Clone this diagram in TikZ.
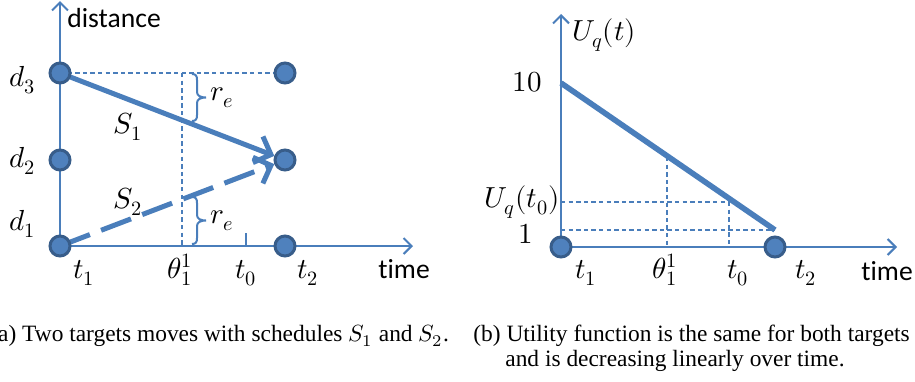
\documentclass[tikz,border=0pt]{standalone}
\usepackage{fontspec}
\usepackage{unicode-math}
\setmainfont{Liberation Serif}
\setmathfont{Latin Modern Math}
\newfontfamily\calib[Ligatures=NoCommon]{Carlito}
\usetikzlibrary{arrows.meta}
\definecolor{ln}{HTML}{4A7EBB}
\definecolor{cf}{HTML}{4F81BD}
\definecolor{cb}{HTML}{385D8A}
\pgfdeclarelayer{bg}
\pgfsetlayers{bg,main}
\tikzset{
  axisline/.style={draw=ln, line width=1pt, -{Straight Barb[length=4pt,width=8pt]}},
  tdash/.style={draw=ln, line width=0.7pt, dash pattern=on 2.2pt off 1.6pt},
  sone/.style={draw=ln, line width=2.5pt, -{Straight Barb[length=7pt,width=14pt]}},
  stwo/.style={sone, dash pattern=on 16pt off 6pt},
  uline/.style={draw=ln, line width=2.8pt},
  dot/.style={circle, fill=cf, draw=cb, line width=1.5pt, minimum size=10pt, inner sep=0pt},
  lbl/.style={font=\fontsize{14.5}{16}\selectfont, inner sep=0pt},
  txt/.style={font=\calib\fontsize{13.8}{16}\selectfont, inner sep=0pt},
  captext/.style={font=\fontsize{11.7}{12.5}\selectfont, inner sep=0pt},
  bracestyle/.style={draw=ln, line width=1pt}
}
\begin{document}
\begin{tikzpicture}[x=0.5pt,y=-0.5pt]
\useasboundingbox (0,0) rectangle (915,381);
% ---------- left diagram ----------
\node[dot] (d3dot) at (60,73) {};
\node[dot] (d2dot) at (60,160) {};
\node[dot] (d1dot) at (60,246) {};
\node[dot] (e3dot) at (285,73) {};
\node[dot] (e2dot) at (285,160) {};
\node[dot] (e1dot) at (285,246) {};
\coordinate (ytop) at (60,1);
\coordinate (xend) at (413,246);
\coordinate (thtop) at (182,73);
\coordinate (thbot) at (182,246);
\coordinate (tzt) at (246,233);
\coordinate (tzb) at (246,246);
\begin{pgfonlayer}{bg}
\draw[axisline] (d1dot.center) -- (ytop);
\draw[axisline] (d1dot.center) -- (xend);
\draw[tdash] (d3dot.center) -- (e3dot.center);
\draw[tdash] (thtop) -- (thbot);
\draw[draw=ln, line width=1pt] (tzt) -- (tzb);
\draw[sone] (d3dot.center) -- (e2dot);
\draw[stwo] (d1dot.center) -- (e2dot);
\draw[bracestyle] (192,74) .. controls (196,74) and (197,76) .. (197,80) -- (197,92)
  .. controls (197,96) and (201,97.5) .. (206,97.5)
  .. controls (201,97.5) and (197,99) .. (197,103) -- (197,115)
  .. controls (197,119) and (196,121) .. (192,121);
\draw[bracestyle, shift={(0,123)}] (192,74) .. controls (196,74) and (197,76) .. (197,80) -- (197,92)
  .. controls (197,96) and (201,97.5) .. (206,97.5)
  .. controls (201,97.5) and (197,99) .. (197,103) -- (197,115)
  .. controls (197,119) and (196,121) .. (192,121);
\end{pgfonlayer}
\node[txt, anchor=base west] (distlbl) at (67,27) {distance};
\node[txt, anchor=base west] (timelbl) at (378,278) {time};
\node[lbl, anchor=base west] (d3lbl) at (9,86) {$d_3$};
\node[lbl, anchor=base west] (d2lbl) at (9,167) {$d_2$};
\node[lbl, anchor=base west] (d1lbl) at (9,230) {$d_1$};
\node[lbl, anchor=base west] (s1lbl) at (113,133) {$S_1$};
\node[lbl, anchor=base west] (s2lbl) at (113,208) {$S_2$};
\node[lbl, anchor=base west] (re1lbl) at (210,100) {$r_e$};
\node[lbl, anchor=base west] (re2lbl) at (210,223) {$r_e$};
\node[lbl, anchor=base west] (t1lbl) at (73,278) {$t_1$};
\node[lbl, anchor=base west] (thlbl) at (167,278) {$\theta_1^1$};
\node[lbl, anchor=base west] (t0lbl) at (235,278) {$t_0$};
\node[lbl, anchor=base west] (t2lbl) at (297,278) {$t_2$};
% ---------- right diagram ----------
\node[dot] (u1dot) at (561,247) {};
\node[dot] (u2dot) at (775,247) {};
\coordinate (uytop) at (561,14);
\coordinate (uxend) at (897,247);
\coordinate (ustart) at (561,83);
\coordinate (uend) at (775,230);
\coordinate (uonel) at (561,230);
\coordinate (uzl) at (561,202);
\coordinate (uz) at (729,202);
\coordinate (uzb) at (729,247);
\coordinate (uth) at (667,157);
\coordinate (uthb) at (667,247);
\begin{pgfonlayer}{bg}
\draw[axisline] (u1dot.center) -- (uytop);
\draw[axisline] (u1dot.center) -- (uxend);
\draw[tdash] (uonel) -- (uend);
\draw[tdash] (uzl) -- (uz);
\draw[tdash] (uz) -- (uzb);
\draw[tdash] (uth) -- (uthb);
\draw[uline] (ustart) -- (uend);
\end{pgfonlayer}
\node[lbl, anchor=base west] (uqt) at (572,40) {$U_q(t)$};
\node[lbl, anchor=base east] (tenlbl) at (542,91) {$10$};
\node[lbl, anchor=base east] (uqtz) at (560,207) {$U_q(t_0)$};
\node[lbl, anchor=base east] (onelbl) at (533,243) {$1$};
\node[lbl, anchor=base west] (ut1) at (575,278) {$t_1$};
\node[lbl, anchor=base west] (uthl) at (652,278) {$\theta_1^1$};
\node[lbl, anchor=base west] (ut0) at (727,278) {$t_0$};
\node[lbl, anchor=base west] (ut2) at (795,278) {$t_2$};
\node[txt, anchor=base west] (utime) at (861,280) {time};
% ---------- captions ----------
\node[captext, anchor=base west] (capa) at (-10,341) {(a) Two targets moves with schedules $S_1$ and $S_2$.};
\node[captext, anchor=base west] (capb) at (473,341) {(b) Utility function is the same for both targets};
\node[captext, anchor=base west] (capb2) at (505,366) {and is decreasing linearly over time.};
\end{tikzpicture}
\end{document}
